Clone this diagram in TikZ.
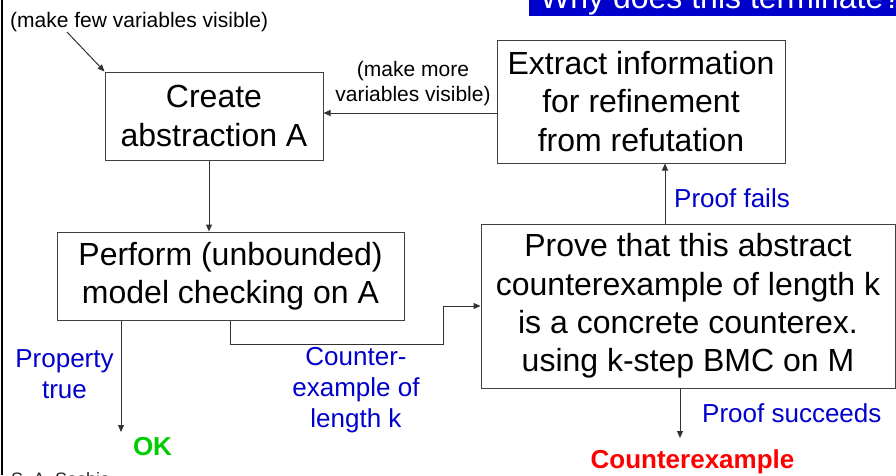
\documentclass[tikz,border=0pt]{standalone}
\usepackage{fontspec}
\setmainfont{Liberation Sans}
\usetikzlibrary{arrows.meta,calc}
\definecolor{lblblue}{RGB}{0,0,204}
\definecolor{titleblue}{RGB}{0,0,204}
\definecolor{okgreen}{RGB}{0,204,0}
\definecolor{cexred}{RGB}{255,0,0}
\tikzset{
  box/.style={draw=black!75, line width=1pt, inner sep=0pt, align=center,
    font=\fontsize{32}{38.4}\selectfont},
  arr/.style={-{Triangle[length=7pt,width=6pt]}, line width=1pt, draw=black!80},
  lbl/.style={text=lblblue, font=\fontsize{26}{31}\selectfont, align=center, inner sep=0pt},
  note/.style={font=\fontsize{21}{25}\selectfont, align=center, inner sep=0pt},
}
\begin{document}
\begin{tikzpicture}[x=1pt,y=-1pt]
\useasboundingbox (0,0) rectangle (896,475);
\clip (0,0) rectangle (896,475);
\fill[white] (0,0) rectangle (896,475);

% title bar (cut off at top)
\fill[titleblue] (529,0) rectangle (896,15.7);
\node[text=white, font=\fontsize{32}{38}\selectfont, anchor=base west, inner sep=0pt] (title) at (540,8) {Why does this terminate?};

% left border line
\draw[line width=2.5pt, black] (2.2,0) -- (2.2,475);

% boxes
\node[box, minimum width=218pt, minimum height=88pt] (create) at (214,116) {Create\\abstraction A};
\node[box, minimum width=288pt, minimum height=123pt] (extract) at (641,101.5) {Extract information\\for refinement\\from refutation};
\node[box, minimum width=347pt, minimum height=88pt] (perform) at (230.5,276) {Perform (unbounded)\\model checking on A};
\node[box, minimum width=414pt, minimum height=164pt] (prove) at (688,306) {Prove that this abstract\\counterexample of length k\\is a concrete counterex.\\using k-step BMC on M};

% texts
\node[note, anchor=west] (few) at (10,22) {(make few variables visible)};
\node[note] (more) at (413,84) {(make more\\variables visible)};
\node[lbl, anchor=west] (pfails) at (674,198) {Proof fails};
\node[lbl, anchor=west] (psucc) at (702,413) {Proof succeeds};
\node[lbl] (ptrue) at (64.5,374) {Property\\true};
\node[lbl] (cexlbl) at (356,390) {Counter-\\example of\\length k};
\node[font=\bfseries\fontsize{26}{31}\selectfont, text=okgreen, inner sep=0pt] (ok) at (152.5,447) {OK};
\node[font=\bfseries\fontsize{26}{31}\selectfont, text=cexred, inner sep=0pt] (cex) at (692.5,462) {Counterexample};
\node[font=\fontsize{18}{21}\selectfont, anchor=base west, inner sep=0pt, text=black!85] (sig) at (11,485) {S. A. Seshia};

% connectors
\coordinate (fewtail) at (67,32);
\draw[arr] (fewtail) -- (create.north west);

\coordinate (moreA) at ([yshift=3pt]create.east);
\draw[arr] (extract.west |- moreA) -- (moreA);

\coordinate (cpx) at (209,0);
\draw[arr] (create.south -| cpx) -- (perform.north -| cpx);

\coordinate (okend) at (121,432);
\draw[arr] (perform.south -| okend) -- (okend);

\coordinate (bend) at (443,306);
\draw[arr] (perform.south) -- ++(0,24) -| (bend) -- (prove.west);

\coordinate (pfx) at (665,0);
\draw[arr] (prove.north -| pfx) -- (extract.south -| pfx);

\coordinate (ceend) at (680,438);
\draw[arr] (prove.south -| ceend) -- (ceend);
\end{tikzpicture}
\end{document}
